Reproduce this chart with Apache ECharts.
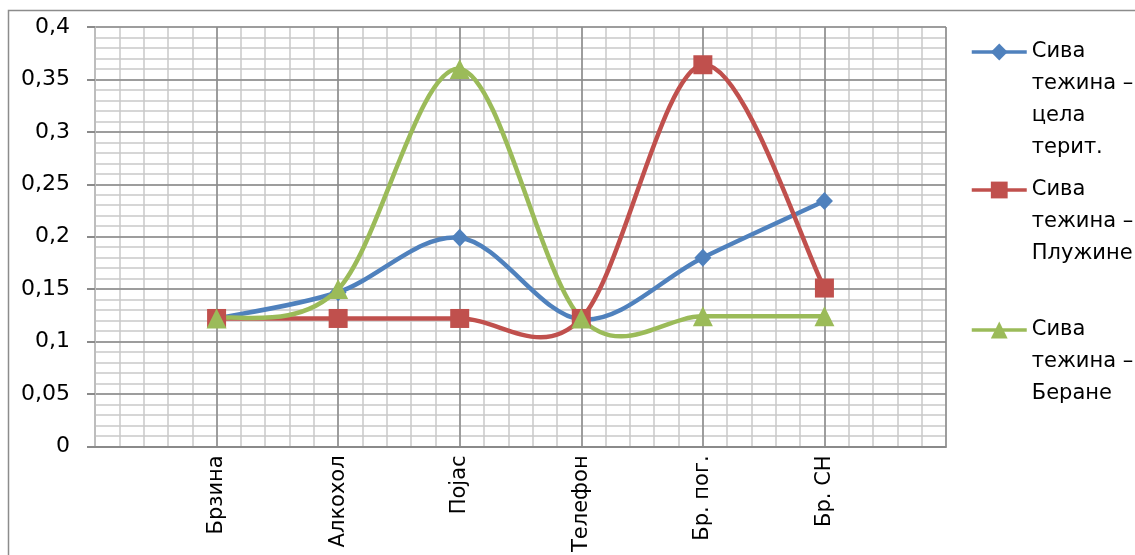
<!DOCTYPE html>
<html>
<head>
<meta charset="utf-8">
<script src="https://cdn.jsdelivr.net/npm/echarts@6/dist/echarts.min.js"></script>
<style>
  html, body { margin: 0; padding: 0; background: #ffffff; }
  #chart { width: 1135px; height: 555px; }
</style>
</head>
<body>
<div id="chart"></div>
<script>
// Categories (empty slots at both ends keep the first and last points off the frame)
const categories = ['', 'Брзина', 'Алкохол', 'Појас', 'Телефон', 'Бр. пог.', 'Бр. СН', ''];

// Series values
const seriesNames = ['Сива тежина – цела терит.', 'Сива тежина – Плужине', 'Сива тежина – Беране'];
const celaTerit = [null, 0.122, 0.147, 0.199, 0.121, 0.180, 0.234, null];
const pluzine   = [null, 0.122, 0.122, 0.122, 0.122, 0.364, 0.151, null];
const berane    = [null, 0.122, 0.150, 0.360, 0.122, 0.124, 0.124, null];

// Y tick labels (decimal comma)
const yTickLabels = ['0', '0,05', '0,1', '0,15', '0,2', '0,25', '0,3', '0,35', '0,4'];

// Legend text, wrapped as in the side panel
const legendLines = [
  ['Сива', 'тежина –', 'цела', 'терит.'],
  ['Сива', 'тежина –', 'Плужине'],
  ['Сива', 'тежина –', 'Беране']
];

const colors = ['#4F81BD', '#C0504D', '#9BBB59'];
const symbols = ['diamond', 'rect', 'triangle'];
const symbolSizes = [[17, 18], 19, [20, 20]];
const values = [celaTerit, pluzine, berane];

const FONT = 'DejaVu Sans';
const MAJOR = '#8a8a8a';
const MINOR = '#c8c8c8';
const LINE_W = 4.5;
const LEGEND_LINE_H = 32;
const legendIconY = [52, 190, 330];

const chart = echarts.init(document.getElementById('chart'), null, { renderer: 'canvas' });

// Smoothed curve through the points of one series: cubic Bezier segments whose
// control points follow the neighbouring points (Catmull-Rom, 1/6 tangent).
function curveRenderer(vals, color) {
  return function (params, api) {
    if (params.dataIndex !== 0) return null;
    const pts = [];
    vals.forEach((v, i) => { if (v != null) pts.push(api.coord([i, v])); });
    const children = [];
    for (let k = 0; k < pts.length - 1; k++) {
      const p0 = pts[Math.max(k - 1, 0)];
      const p1 = pts[k];
      const p2 = pts[k + 1];
      const p3 = pts[Math.min(k + 2, pts.length - 1)];
      children.push({
        type: 'bezierCurve',
        shape: {
          x1: p1[0], y1: p1[1],
          cpx1: p1[0] + (p2[0] - p0[0]) / 6, cpy1: p1[1] + (p2[1] - p0[1]) / 6,
          cpx2: p2[0] - (p3[0] - p1[0]) / 6, cpy2: p2[1] - (p3[1] - p1[1]) / 6,
          x2: p2[0], y2: p2[1]
        },
        style: { fill: null, stroke: color, lineWidth: LINE_W, lineCap: 'round', lineJoin: 'round' }
      });
    }
    return { type: 'group', children: children };
  };
}

const legends = seriesNames.map((name, i) => {
  const n = legendLines[i].length;
  // blank lines above balance the block so its first line sits level with the icon
  const text = new Array(n - 1).fill(' ').concat(legendLines[i]).join('\n');
  return {
    orient: 'vertical',
    left: 970,
    top: legendIconY[i] - (n - 0.5) * LEGEND_LINE_H,
    padding: 0,
    itemWidth: 55,
    itemHeight: 21,
    selectedMode: false,
    data: [name],
    lineStyle: { width: 3.5, opacity: 1 },
    formatter: () => text,
    textStyle: {
      fontFamily: FONT,
      fontSize: 21,
      color: '#000',
      lineHeight: LEGEND_LINE_H
    }
  };
});

const series = [];
seriesNames.forEach((name, i) => {
  series.push({
    id: 'curve' + i,
    type: 'custom',
    coordinateSystem: 'cartesian2d',
    xAxisIndex: 0,
    yAxisIndex: 0,
    silent: true,
    data: values[i].map((v, j) => [j, v]).filter(d => d[1] != null),
    renderItem: curveRenderer(values[i], colors[i])
  });
  series.push({
    name: name,
    type: 'line',
    xAxisIndex: 0,
    yAxisIndex: 0,
    data: values[i],
    symbol: symbols[i],
    symbolSize: symbolSizes[i],
    showAllSymbol: true,
    silent: true,
    lineStyle: { width: LINE_W, color: colors[i], opacity: 0 },
    itemStyle: { color: colors[i] },
    emphasis: { disabled: true }
  });
});

const option = {
  backgroundColor: '#ffffff',
  animation: false,
  color: colors,
  grid: { left: 95, right: 189, top: 27, bottom: 108 },
  legend: legends,
  graphic: [{
    type: 'rect',
    shape: { x: 8.5, y: 10.5, width: 1200, height: 600 },
    style: { fill: 'none', stroke: '#8c8c8c', lineWidth: 1.5 },
    silent: true
  }],
  xAxis: [{
    type: 'category',
    data: categories,
    boundaryGap: false,
    z: 2,
    axisLine: { show: true, lineStyle: { color: MAJOR, width: 2 } },
    axisTick: { show: false },
    splitLine: { show: true, interval: 0, lineStyle: { color: MAJOR, width: 1.5 } },
    axisLabel: {
      interval: 0,
      rotate: 90,
      margin: 9,
      fontFamily: FONT,
      fontSize: 21,
      color: '#000'
    }
  }, {
    // fine vertical grid: five divisions per category
    type: 'value',
    position: 'top',
    min: 0,
    max: 35,
    interval: 1,
    z: 0,
    axisLine: { show: false },
    axisTick: { show: false },
    axisLabel: { show: false },
    splitLine: { show: true, lineStyle: { color: MINOR, width: 1.5 } }
  }],
  yAxis: [{
    type: 'value',
    min: 0,
    max: 0.4,
    interval: 0.05,
    z: 2,
    axisLine: { show: true, lineStyle: { color: MINOR, width: 1.5 } },
    axisTick: { show: true, inside: false, length: 8, lineStyle: { color: MAJOR, width: 2 } },
    splitLine: { show: true, lineStyle: { color: MAJOR, width: 1.5 } },
    axisLabel: {
      margin: 25,
      fontFamily: FONT,
      fontSize: 22,
      color: '#000',
      formatter: (v) => yTickLabels[Math.round(v / 0.05)]
    }
  }, {
    // fine horizontal grid: 0,01 steps
    type: 'value',
    position: 'right',
    min: 0,
    max: 0.4,
    interval: 0.01,
    z: 0,
    axisLine: { show: false },
    axisTick: { show: false },
    axisLabel: { show: false },
    splitLine: { show: true, lineStyle: { color: MINOR, width: 1.5 } }
  }],
  series: series
};

chart.setOption(option);
</script>
</body>
</html>
